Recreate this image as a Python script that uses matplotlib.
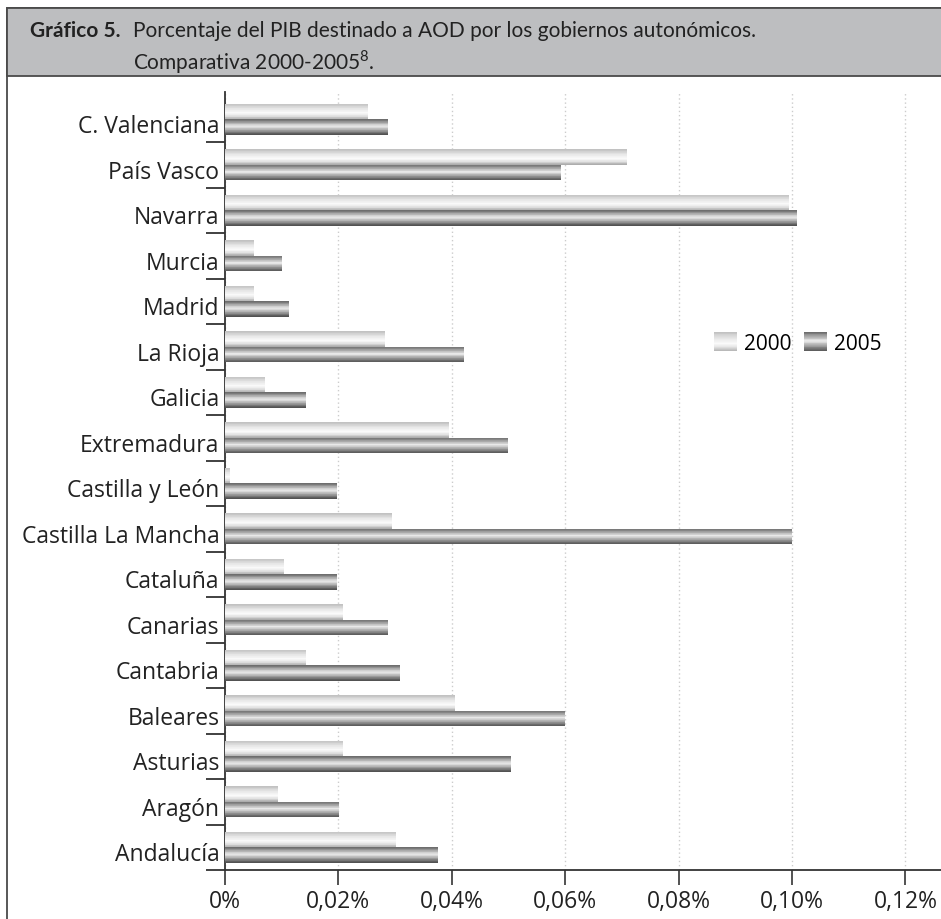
import numpy as np
import matplotlib
matplotlib.use('Agg')
import matplotlib.pyplot as plt
from matplotlib.colors import LinearSegmentedColormap
from matplotlib.patches import Rectangle
from matplotlib.legend_handler import HandlerBase
from matplotlib.transforms import ScaledTranslation

## Datos: % del PIB destinado a AOD por comunidad autónoma
regiones = ['Andalucía', 'Aragón', 'Asturias', 'Baleares', 'Cantabria', 'Canarias',
            'Cataluña', 'Castilla La Mancha', 'Castilla y León', 'Extremadura',
            'Galicia', 'La Rioja', 'Madrid', 'Murcia', 'Navarra', 'País Vasco',
            'C. Valenciana']
pib_2000 = [0.0302, 0.0093, 0.0208, 0.0406, 0.0143, 0.0208, 0.0104, 0.0295, 0.0008,
            0.0395, 0.0071, 0.0282, 0.0051, 0.0051, 0.0995, 0.0709, 0.0252]
pib_2005 = [0.0376, 0.0201, 0.0504, 0.0600, 0.0309, 0.0287, 0.0198, 0.1000, 0.0198,
            0.0499, 0.0143, 0.0422, 0.0113, 0.0101, 0.1009, 0.0593, 0.0287]
anios = ['2000', '2005']
ticks_x = [0, 0.02, 0.04, 0.06, 0.08, 0.10, 0.12]
etiquetas_x = ['0%', '0,02%', '0,04%', '0,06%', '0,08%', '0,10%', '0,12%']

plt.rcParams['font.family'] = ['Open Sans', 'DejaVu Sans']
plt.rcParams['mathtext.fontset'] = 'custom'
plt.rcParams['mathtext.rm'] = 'Lato'

W, H = 941, 920


def degradado(paradas, n=24):
    cmap = LinearSegmentedColormap.from_list('g', paradas)
    return [cmap(k / (n - 1)) for k in range(n)]


# colores de arriba a abajo de cada barra
colores_2000 = degradado([(0.0, '#c2c2c2'), (0.3, '#e6e6e6'), (0.6, '#fbfbfb'),
                          (0.82, '#dedede'), (1.0, '#adadad')])
colores_2005 = degradado([(0.0, '#6e6e6e'), (0.25, '#b4b4b4'), (0.45, '#ececec'),
                          (0.7, '#a6a6a6'), (1.0, '#525252')])


def barras_degradado(ax, centros, valores, alto, colores):
    n = len(colores)
    franja = alto / n
    for k, c in enumerate(colores):
        yk = centros + alto / 2 - franja * (k + 0.5)
        ax.barh(yk, valores, height=franja * 1.05, color=c, linewidth=0, zorder=3)


class HandlerDegradado(HandlerBase):
    def __init__(self, colores):
        super().__init__()
        self.colores = colores

    def create_artists(self, legend, orig_handle, xdescent, ydescent, width, height,
                       fontsize, trans):
        n = len(self.colores)
        h = height / n
        arts = []
        for k, c in enumerate(self.colores):
            r = Rectangle((-xdescent, -ydescent + height - h * (k + 1)), width, h * 1.05,
                          facecolor=c, linewidth=0, transform=trans)
            arts.append(r)
        return arts


fig = plt.figure(figsize=(W / 100, H / 100), dpi=100)

# marco exterior y cabecera gris
fig.add_artist(Rectangle((7 / W, -0.02), 1.0, (H - 9) / H + 0.02, transform=fig.transFigure,
                         facecolor='none', edgecolor='#4a4a4a', linewidth=1.3))
fig.add_artist(Rectangle((7 / W, (H - 77) / H), 1.0, 68 / H, transform=fig.transFigure,
                         facecolor='#bdbec0', edgecolor='#4a4a4a', linewidth=1.3))
titulo = dict(fontsize=15, color='#222222', va='center', ha='left', family=['Lato', 'DejaVu Sans'])
fig.text(30 / W, 1 - 31 / H, 'Gráfico 5.', fontweight='bold', **titulo)
fig.text(133 / W, 1 - 31 / H,
         'Porcentaje del PIB destinado a AOD por los gobiernos autonómicos.', **titulo)
fig.text(133 / W, 1 - 62 / H, r'Comparativa 2000-2005$^{\mathrm{8}}$.', **titulo)

ax = fig.add_axes([225 / W, (H - 871) / H, (W - 225) / W, (871 - 93) / H])

y = np.arange(len(regiones))
alto = 0.34
barras_degradado(ax, y + alto / 2, np.array(pib_2000), alto, colores_2000)
barras_degradado(ax, y - alto / 2, np.array(pib_2005), alto, colores_2005)

ax.set_xlim(0, (W - 225) / 5670)
ax.set_ylim(-0.5, len(regiones) - 0.4)

ax.set_xticks(ticks_x)
ax.set_xticklabels(etiquetas_x)
ax.set_yticks(y)
ax.set_yticklabels(regiones)
ax.set_yticks(np.arange(-0.5, len(regiones) - 1, 1), minor=True)

ax.tick_params(axis='x', length=10.8, width=1.3, color='#444444', pad=3,
               labelsize=16.5, labelcolor='#222222')
ax.tick_params(axis='y', which='major', length=0, pad=4, labelsize=16.5, labelcolor='#222222')
ax.tick_params(axis='y', which='minor', length=13.7, width=1.3, color='#333333')

# etiquetas de categoría un poco más abajo
bajar = ScaledTranslation(0, -4 / 100, fig.dpi_scale_trans)
for etiqueta in ax.get_yticklabels():
    etiqueta.set_transform(etiqueta.get_transform() + bajar)

ax.xaxis.grid(True, linestyle=(0, (1, 2)), color='#cccccc', linewidth=1)
ax.set_axisbelow(True)

for lado in ['top', 'right']:
    ax.spines[lado].set_visible(False)
for lado in ['left', 'bottom']:
    ax.spines[lado].set_color('#333333')
    ax.spines[lado].set_linewidth(1.3)

p1 = Rectangle((0, 0), 1, 1)
p2 = Rectangle((0, 0), 1, 1)
fig.legend([p1, p2], anios, loc='center left', bbox_to_anchor=(714 / W, 1 - 344 / H),
           bbox_transform=fig.transFigure, ncol=2, frameon=False, fontsize=15,
           handlelength=1.1, handleheight=1.05, handletextpad=0.35, columnspacing=0.6,
           borderpad=0, borderaxespad=0,
           handler_map={p1: HandlerDegradado(colores_2000), p2: HandlerDegradado(colores_2005)})

fig.savefig('out.png', dpi=100)
